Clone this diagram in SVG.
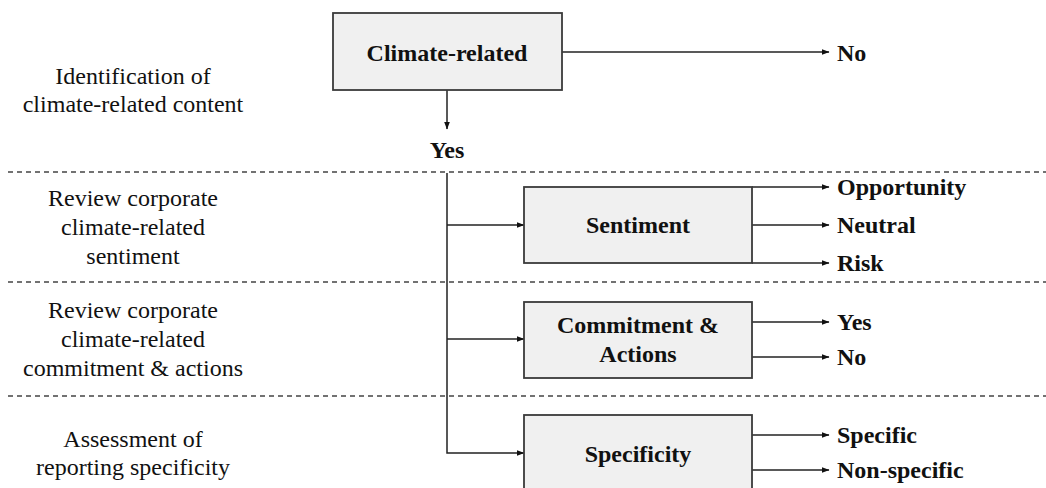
<svg xmlns="http://www.w3.org/2000/svg" width="1046" height="488" viewBox="0 0 1046 488">
<style>
.box{fill:#f0f0f0;stroke:#3a3a3a;stroke-width:1.8}
.ln{fill:none;stroke:#222;stroke-width:1.5}
.dash{fill:none;stroke:#444;stroke-width:1.3;stroke-dasharray:5 4}
.lbl{font-size:24px;fill:#111;text-anchor:middle}
.b{font-size:24px;font-weight:bold;fill:#111}
.c{text-anchor:middle}
</style>
<defs>
<marker id="ah" markerWidth="8" markerHeight="6" refX="7.5" refY="3" orient="auto" markerUnits="userSpaceOnUse">
<path d="M0,0 L8,3 L0,6 Z" fill="#111"/>
</marker>
</defs>
<rect width="1046" height="488" fill="#fff"/>
<g id="separators">
<line class="dash" x1="8" y1="172" x2="1046" y2="172"/>
<line class="dash" x1="8" y1="282" x2="1046" y2="282"/>
<line class="dash" x1="8" y1="396" x2="1046" y2="396"/>
</g>
<g id="stage-labels" font-family="'Liberation Serif', Tinos, 'Times New Roman', 'DejaVu Serif', serif">
<text class="lbl" x="133" y="84">Identification of</text>
<text class="lbl" x="133" y="112">climate-related content</text>
<text class="lbl" x="133" y="206">Review corporate</text>
<text class="lbl" x="133" y="235">climate-related</text>
<text class="lbl" x="133" y="264">sentiment</text>
<text class="lbl" x="133" y="318">Review corporate</text>
<text class="lbl" x="133" y="347">climate-related</text>
<text class="lbl" x="133" y="376">commitment &amp; actions</text>
<text class="lbl" x="133" y="447">Assessment of</text>
<text class="lbl" x="133" y="475">reporting specificity</text>
</g>
<g id="connectors">
<line class="ln" x1="562" y1="52" x2="829" y2="52" marker-end="url(#ah)"/>
<line class="ln" x1="447" y1="90" x2="447" y2="129" marker-end="url(#ah)"/>
<polyline class="ln" points="447,173 447,453 524,453" marker-end="url(#ah)"/>
<line class="ln" x1="447" y1="225" x2="524" y2="225" marker-end="url(#ah)"/>
<line class="ln" x1="447" y1="339" x2="524" y2="339" marker-end="url(#ah)"/>
<line class="ln" x1="752" y1="187" x2="829" y2="187" marker-end="url(#ah)"/>
<line class="ln" x1="752" y1="225" x2="829" y2="225" marker-end="url(#ah)"/>
<line class="ln" x1="752" y1="263" x2="829" y2="263" marker-end="url(#ah)"/>
<line class="ln" x1="752" y1="322" x2="829" y2="322" marker-end="url(#ah)"/>
<line class="ln" x1="752" y1="357" x2="829" y2="357" marker-end="url(#ah)"/>
<line class="ln" x1="752" y1="435" x2="829" y2="435" marker-end="url(#ah)"/>
<line class="ln" x1="752" y1="470" x2="829" y2="470" marker-end="url(#ah)"/>
</g>
<g font-family="'Liberation Serif', Tinos, 'Times New Roman', 'DejaVu Serif', serif">
<g id="node-climate">
<rect class="box" x="333" y="13" width="229" height="77"/>
<text class="b c" x="447" y="61">Climate-related</text>
</g>
<g id="node-sentiment">
<rect class="box" x="524" y="187" width="228" height="76"/>
<text class="b c" x="638" y="233">Sentiment</text>
</g>
<g id="node-commitment">
<rect class="box" x="524" y="302" width="228" height="76"/>
<text class="b c" x="638" y="333">Commitment &amp;</text>
<text class="b c" x="638" y="362">Actions</text>
</g>
<g id="node-specificity">
<rect class="box" x="524" y="415" width="228" height="80"/>
<text class="b c" x="638" y="462">Specificity</text>
</g>
<g id="outcomes">
<text class="b" x="837" y="61">No</text>
<text class="b c" x="447" y="158">Yes</text>
<text class="b" x="837" y="195">Opportunity</text>
<text class="b" x="837" y="233">Neutral</text>
<text class="b" x="837" y="271">Risk</text>
<text class="b" x="837" y="330">Yes</text>
<text class="b" x="837" y="365">No</text>
<text class="b" x="837" y="443">Specific</text>
<text class="b" x="837" y="478">Non-specific</text>
</g>
</g>
</svg>
